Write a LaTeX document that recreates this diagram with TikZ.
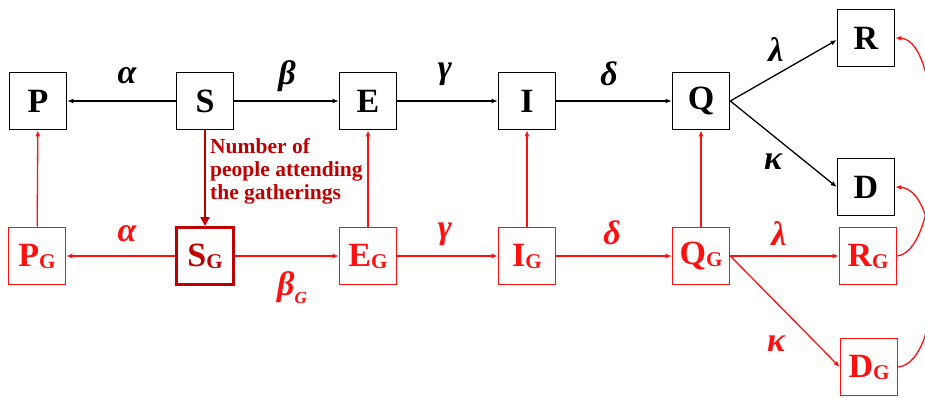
\documentclass[tikz,border=0pt]{standalone}
\usepackage{fontspec}
\setmainfont{Liberation Serif}
\usetikzlibrary{arrows.meta}
\definecolor{gatherred}{HTML}{FF1010}
\definecolor{darkred}{HTML}{C00000}

\newcommand{\subG}{\raisebox{-2pt}{\fontsize{21}{21}\selectfont G}}

\begin{document}
\begin{tikzpicture}[x=1pt,y=-1pt,
  comp/.style={rectangle, draw=black, line width=1.6pt, minimum width=57pt,
               minimum height=57pt, inner sep=0pt, font=\fontsize{34}{34}\selectfont\bfseries},
  gcomp/.style={comp, draw=gatherred, text=gatherred},
  rate/.style={font=\fontsize{34}{34}\selectfont\bfseries\itshape},
  grate/.style={rate, text=gatherred},
  flow/.style={-{Latex[length=6pt,width=5pt]}, line width=1.3pt, draw=black},
  gflow/.style={flow, draw=gatherred}
]
  \useasboundingbox (0,0) rectangle (925,397);
  % upper row
  \node[comp] (P) at (38,101) {P};
  \node[comp] (S) at (205,101) {S};
  \node[comp] (E) at (368,101) {E};
  \node[comp] (I) at (527,101) {I};
  \node[comp] (Q) at (701,101) {Q};
  \node[comp] (R) at (866,38) {R};
  \node[comp] (D) at (866,187) {D};
  % lower row, gatherings
  \node[gcomp] (PG) at (37,256) {P\subG};
  \node[gcomp, draw=darkred, text=darkred, line width=3pt] (SG) at (205,256) {S\subG};
  \node[gcomp] (EG) at (368,256) {E\subG};
  \node[gcomp] (IG) at (527,256) {I\subG};
  \node[gcomp] (QG) at (701,256) {Q\subG};
  \node[gcomp] (RG) at (868,256) {R\subG};
  \node[gcomp] (DG) at (869,367) {D\subG};

  \draw[flow] (S) -- (P);
  \draw[flow] (S) -- (E);
  \draw[flow] (E) -- (I);
  \draw[flow] (I) -- (Q);
  \draw[flow] (Q.east) -- ([yshift=-2pt]R.west);
  \draw[flow] (Q.east) -- (D.west);
  \draw[gflow] (SG) -- (PG);
  \draw[gflow] (SG) -- (EG);
  \draw[gflow] (EG) -- (IG);
  \draw[gflow] (IG) -- (QG);
  \draw[gflow] (QG) -- (RG);
  \draw[gflow] (QG.east) -- (DG.west);
  \draw[gflow] (PG) -- (P);
  \draw[gflow] (EG) -- (E);
  \draw[gflow] (IG) -- (I);
  \draw[gflow] (QG) -- (Q);
  \draw[gflow] (RG.east) .. controls (945,250) and (945,40) .. (R.east);
  \draw[gflow] (DG.east) .. controls (945,362) and (945,190) .. (D.east);
  \draw[-{Triangle[length=9pt,width=9pt]}, line width=2.6pt, darkred] (S) -- (SG);

  % rates
  \node[rate] (a1) at (127,76) {α};
  \node[rate] (b1) at (287,76) {β};
  \node[rate] (c1) at (445,74) {γ};
  \node[rate] (d1) at (609,74) {δ};
  \node[rate] (l1) at (776,50) {λ};
  \node[rate] (k1) at (773,162) {κ};
  \node[grate] (a2) at (127,234) {α};
  \node[grate] (b2) at (292,288) {β\raisebox{-8pt}{\fontsize{17}{17}\selectfont G}};
  \node[grate] (c2) at (445,234) {γ};
  \node[grate] (d2) at (612,233) {δ};
  \node[grate] (l2) at (779,234) {λ};
  \node[grate] (k2) at (776,344) {κ};

  \node[anchor=north west, align=left, inner sep=0pt, text=darkred,
        font=\fontsize{21.5}{23}\selectfont\bfseries] (note) at (210,138)
        {Number of\\people attending\\the gatherings};
\end{tikzpicture}
\end{document}
